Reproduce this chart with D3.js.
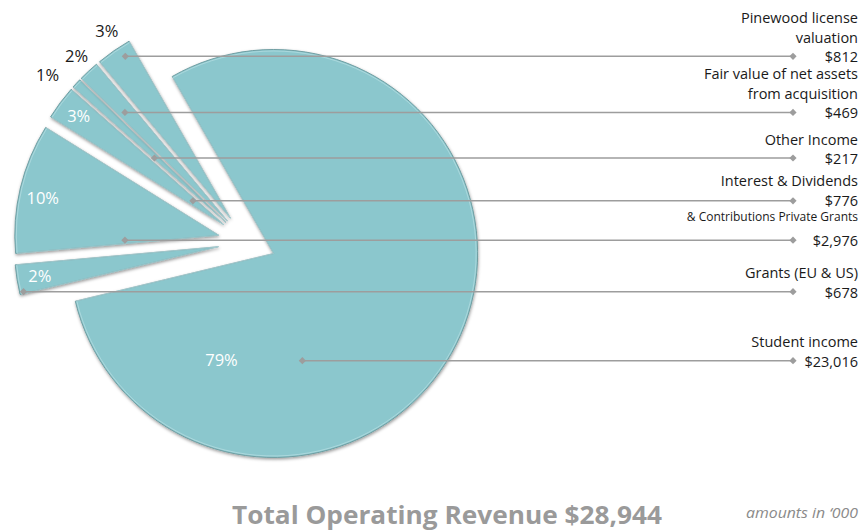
<!DOCTYPE html>
<html>
<head>
<meta charset="utf-8">
<script src="https://cdn.jsdelivr.net/npm/d3@7"></script>
<style>
  body { margin: 0; background: #fff; }
  svg { display: block; font-family: "Open Sans", "DejaVu Sans", sans-serif; }
</style>
</head>
<body>
<div id="chart"></div>
<script>
// data, clockwise from the top of the big slice
const categories = ["Student income", "Grants (EU & US)", "Private Grants & Contributions",
    "Interest & Dividends", "Other Income", "Fair value of net assets from acquisition",
    "Pinewood license valuation"];
const amounts = [23016, 678, 2976, 776, 217, 469, 812];
const percentLabels = ["79%", "2%", "10%", "3%", "1%", "2%", "3%"];
const labelLines = [
    ["Student income"],
    ["Grants (EU & US)"],
    ["& Contributions  Private Grants"],
    ["Interest & Dividends"],
    ["Other Income"],
    ["Fair value of net assets", "from acquisition"],
    ["Pinewood license", "valuation"]
];
const totalText = "Total Operating Revenue $28,944";
const unitsText = "amounts in \u2018000";

// layout
const width = 865, height = 531;
const cx = 247, cy = 242, radius = 204, explode = 29;
const startDeg = -29.8;
const fill = "#8bc7cd";
const pctOutside = [false, false, false, false, true, true, true];
// percent label placement: [angle deg, radius from slice apex]; null = slice middle
const pctPlace = [[206, 119], null, [282, 180], null, [309.5, 231], [317.5, 223], [326.5, 224]];
// where each leader line leaves its slice (absolute angle in degrees, radius from slice apex)
const leaderAnchor = [[165, 111], [257, 200], [267, 94], [307.7, 39], [312, 96], [316.6, 149], [327, 193]];
const leaderEndX = 793, labelRightX = 858;

const rad = d => d * Math.PI / 180;
const polar = (a, r) => [r * Math.sin(a), -r * Math.cos(a)];

const svg = d3.select("#chart").append("svg")
    .attr("width", width).attr("height", height);

const defs = svg.append("defs");
const shadow = defs.append("filter").attr("id", "shadow")
    .attr("x", "-20%").attr("y", "-20%").attr("width", "140%").attr("height", "140%");
shadow.append("feDropShadow")
    .attr("dx", 0.5).attr("dy", 1.5).attr("stdDeviation", 1.4)
    .attr("flood-color", "#000").attr("flood-opacity", 0.4);

const pie = d3.pie().sort(null).value(d => d)
    .startAngle(rad(startDeg)).endAngle(rad(startDeg + 360));
const arcs = pie(amounts);
const arc = d3.arc().innerRadius(0).outerRadius(radius);

// apex of every exploded slice
arcs.forEach(d => {
    const mid = (d.startAngle + d.endAngle) / 2;
    const [ox, oy] = polar(mid, explode);
    d.ax = cx + ox; d.ay = cy + oy; d.mid = mid;
});

const sliceG = svg.append("g").attr("class", "slices");
sliceG.selectAll("path")
    .data(arcs)
    .join("path")
    .attr("transform", d => `translate(${d.ax},${d.ay})`)
    .attr("d", arc)
    .attr("fill", fill)
    .attr("stroke", "#6a989d")
    .attr("stroke-width", 0.9)
    .attr("filter", "url(#shadow)");

// inner highlight
sliceG.selectAll("path.hl")
    .data(arcs)
    .join("path")
    .attr("class", "hl")
    .attr("transform", d => `translate(${d.ax},${d.ay})`)
    .attr("d", d3.arc().innerRadius(0).outerRadius(radius - 1.5))
    .attr("fill", "none")
    .attr("stroke", "#c4e6ea")
    .attr("stroke-opacity", 0.55)
    .attr("stroke-width", 1);

// percentage labels
svg.append("g").selectAll("text")
    .data(arcs)
    .join("text")
    .attr("transform", (d, i) => {
        const p = pctPlace[i];
        const [x, y] = p ? polar(rad(p[0]), p[1]) : polar(d.mid, 181);
        return `translate(${d.ax + x},${d.ay + y})`;
    })
    .attr("text-anchor", "middle")
    .attr("dy", "0.36em")
    .attr("fill", (d, i) => pctOutside[i] ? "#1a1a1a" : "#fff")
    .style("font-size", "16.5px")
    .text((d, i) => percentLabels[i]);

// leader lines
const leaders = arcs.map((d, i) => {
    const [x, y] = polar(rad(leaderAnchor[i][0]), leaderAnchor[i][1]);
    return { x: d.ax + x, y: d.ay + y, i };
});

const lg = svg.append("g").attr("class", "leaders");
lg.selectAll("line")
    .data(leaders)
    .join("line")
    .attr("x1", d => d.x).attr("y1", d => d.y)
    .attr("x2", leaderEndX).attr("y2", d => d.y)
    .attr("stroke", "#9d9d9d").attr("stroke-width", 1.5);

const diamond = d3.symbol(d3.symbolSquare).size(26);
lg.selectAll("path.start")
    .data(leaders)
    .join("path")
    .attr("class", "start")
    .attr("transform", d => `translate(${d.x},${d.y}) rotate(45)`)
    .attr("d", diamond)
    .attr("fill", "#9d9d9d");
lg.selectAll("path.end")
    .data(leaders)
    .join("path")
    .attr("class", "end")
    .attr("transform", d => `translate(${leaderEndX},${d.y}) rotate(45)`)
    .attr("d", diamond)
    .attr("fill", "#9d9d9d");

// category labels on the right
const money = d3.format("$,");
const labG = svg.append("g").attr("class", "labels")
    .attr("text-anchor", "end").attr("fill", "#1a1a1a");
leaders.forEach(d => {
    const i = d.i;
    const small = i === 2;
    const base = d.y + (i === 3 ? 5 : 6);
    labG.append("text")
        .attr("x", labelRightX).attr("y", base)
        .style("font-size", "14.5px")
        .text(money(amounts[i]));
    const lines = labelLines[i];
    const gap = small ? 25 : 19.5;
    lines.forEach((t, k) => {
        labG.append("text")
            .attr("x", labelRightX)
            .attr("y", base - gap - (lines.length - 1 - k) * 19.5)
            .style("font-size", small ? "12px" : "14.5px")
            .text(t);
    });
});

// footer
svg.append("text")
    .attr("x", 447).attr("y", 524)
    .attr("text-anchor", "middle")
    .attr("fill", "#9a9a9a")
    .attr("textLength", 430).attr("lengthAdjust", "spacingAndGlyphs")
    .style("font-size", "25px").style("font-weight", 700)
    .style("font-family", "'Open Sans', sans-serif")
    .text(totalText);

svg.append("text")
    .attr("x", labelRightX).attr("y", 518)
    .attr("text-anchor", "end")
    .attr("fill", "#8a8a8a")
    .attr("textLength", 112).attr("lengthAdjust", "spacingAndGlyphs")
    .style("font-size", "14px").style("font-style", "italic")
    .text(unitsText);
</script>
</body>
</html>
